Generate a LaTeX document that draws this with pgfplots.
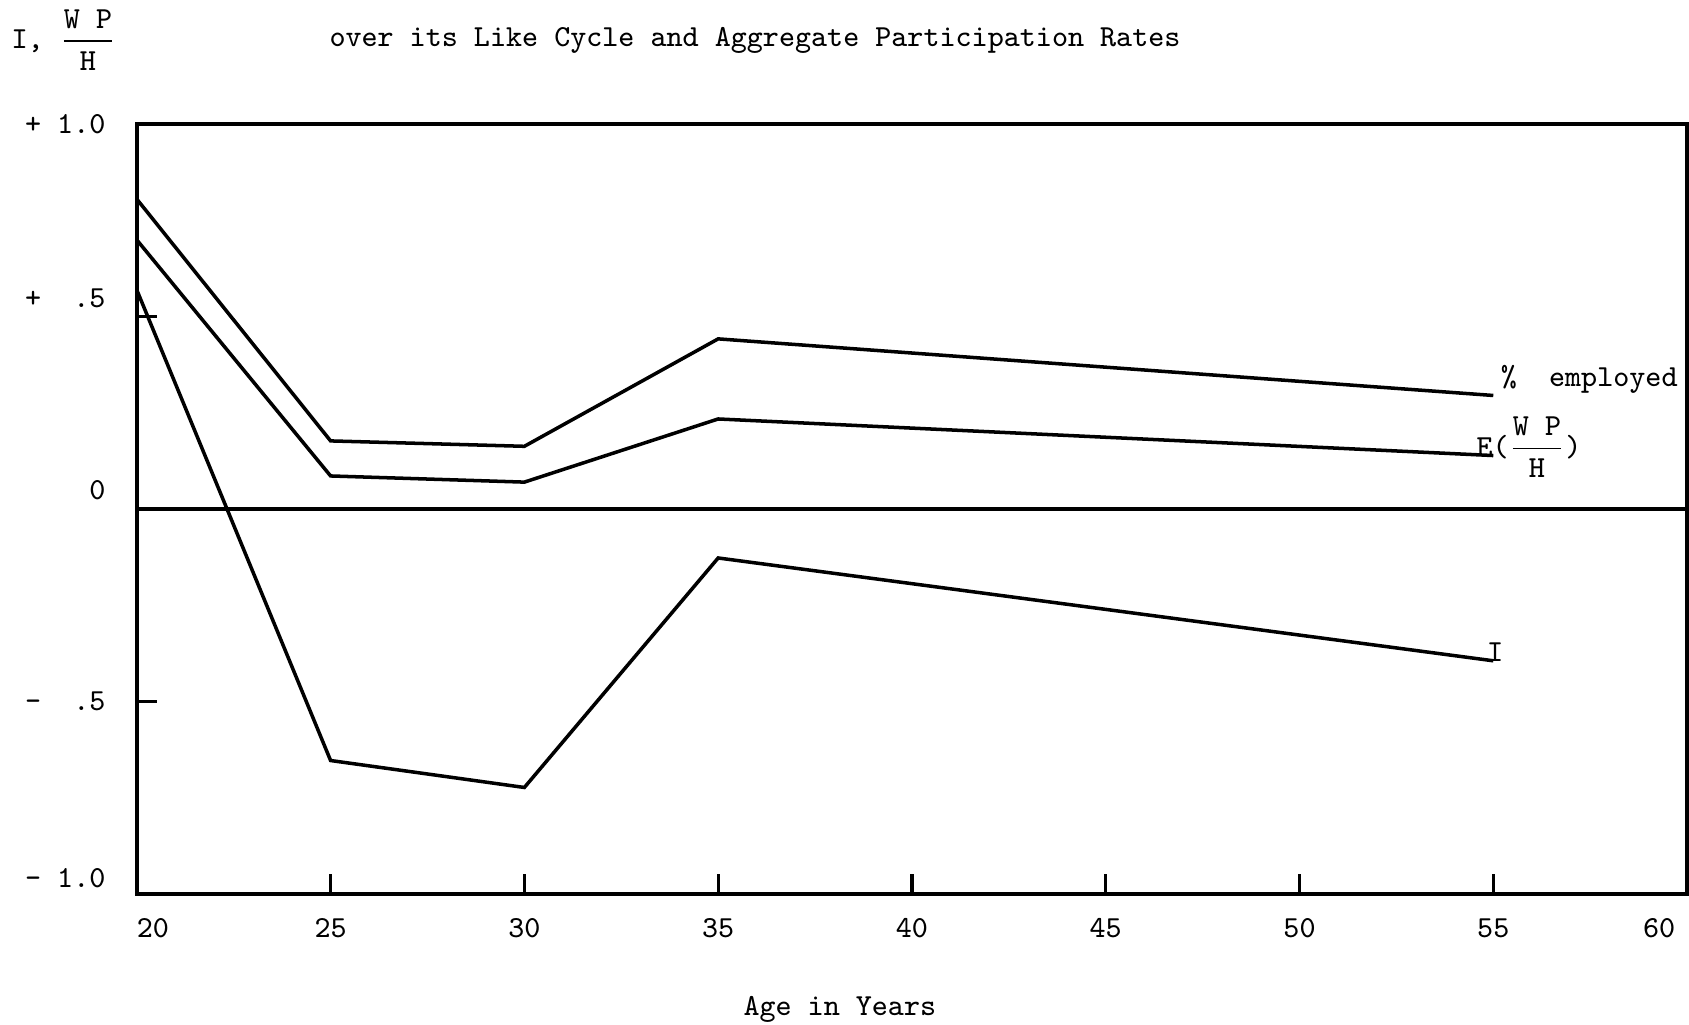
\documentclass[border=0pt]{standalone}
\usepackage{fontspec}
\usepackage{pgfplots}
\pgfplotsset{compat=1.18}
\renewcommand{\familydefault}{\ttdefault}
\newcommand{\WPH}{$\displaystyle\frac{\texttt{W~P}}{\texttt{H}}$}
\begin{document}
\begin{tikzpicture}[font=\fontsize{8.7}{10.4}\selectfont\ttfamily]
\begin{axis}[
  name=ax,
  width=15.50cm, height=7.70cm, scale only axis,
  xmin=20, xmax=60, ymin=-1, ymax=1,
  clip=false,
  axis line style={line width=1.2pt},
  tick pos=left, tick align=inside,
  major tick length=0.2cm,
  tick style={line width=0.9pt, black},
  xtick={20,25,...,60},
  xticklabels={\hspace*{0.32cm}20,25,30,35,40,45,50,55,60\hspace*{0.56cm}},
  xticklabel style={yshift=-3.5pt},
  ytick={-0.5,0.5},
  yticklabels={},
  extra y ticks={-0.958,-0.499,0.049,0.547,1.0},
  extra y tick labels={-~1.0,-~~.5,0,+~~.5,+~1.0},
  extra y tick style={major tick length=0pt, yticklabel style={xshift=-5.4pt}},
  /pgf/number format/assume math mode=true,
]
\addplot[black, line width=1pt, sharp plot] coordinates {(20,0) (60,0)};
% percent employed
\addplot[black, line width=1pt, sharp plot] coordinates {
  (20,0.805) (25,0.177) (30,0.163) (35,0.442) (55,0.295)};
% E(WP/H)
\addplot[black, line width=1pt, sharp plot] coordinates {
  (20,0.699) (25,0.086) (30,0.070) (35,0.234) (55,0.139)};
% I
\addplot[black, line width=1pt, sharp plot] coordinates {
  (20,0.569) (25,-0.653) (30,-0.723) (35,-0.127) (55,-0.394)};

\node[anchor=west, inner sep=0pt] at (axis cs:55.18,0.338) {\%~~employed};
\node[anchor=west, inner sep=0pt] at (axis cs:54.55,0.160) {E(\WPH)};
\node[anchor=west, inner sep=0pt] at (axis cs:54.82,-0.371) {I};

\node at (axis cs:35.95,1.218) {over its Like Cycle and Aggregate Participation Rates};
\node[anchor=west, inner sep=0pt] at (axis cs:16.75,1.218) {I, \WPH};
\node at (axis cs:38.14,-1.299) {Age in Years};

\coordinate (BL) at (axis cs:16.47,-1.338);
\coordinate (TR) at (axis cs:60.05,1.322);
\end{axis}
\pgfresetboundingbox
\path (BL) rectangle (TR);
\end{tikzpicture}
\end{document}
